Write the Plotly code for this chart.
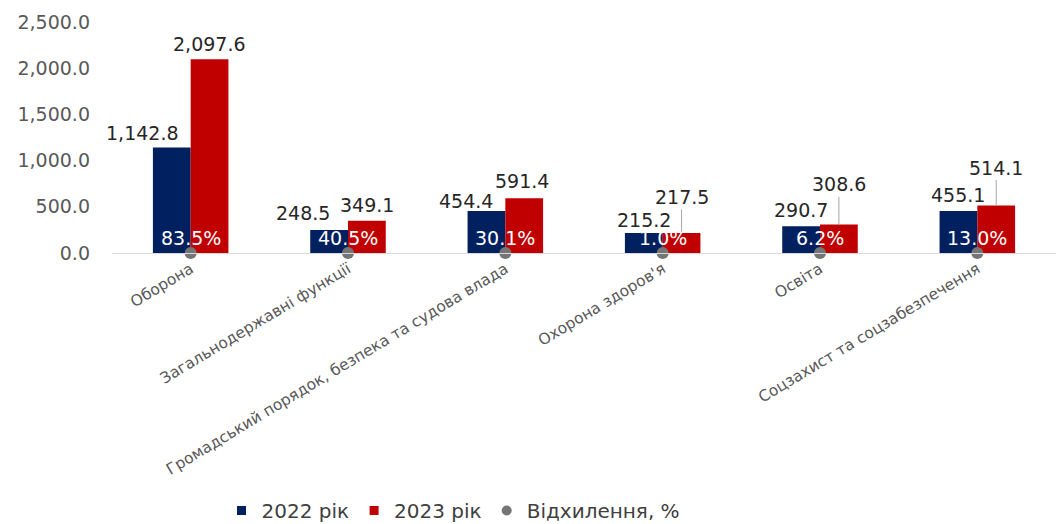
import plotly.graph_objects as go

# Budget expenditure by function, UAH bn
categories = [
    "Оборона",
    "Загальнодержавні функції",
    "Громадський порядок, безпека та судова влада",
    "Охорона здоров'я",
    "Освіта",
    "Соцзахист та соцзабезпечення",
]
values_2022 = [1142.8, 248.5, 454.4, 215.2, 290.7, 455.1]
values_2023 = [2097.6, 349.1, 591.4, 217.5, 308.6, 514.1]
deviation_pct = [83.5, 40.5, 30.1, 1.0, 6.2, 13.0]
y_ticks = [0, 500, 1000, 1500, 2000, 2500]

# Styling
FONT = "DejaVu Sans"
C_2022 = "#002060"
C_2023 = "#C00000"
C_DOT = "#757575"
W, H = 1056, 524
M_L, M_R, M_T, M_B = 112, 0, 22, 271
BARGAP = 0.52

# value-label nudges in px: (dx from bar centre, lift above bar top, leader line)
nudge_2022 = [(-29, 14, False), (-26, 17, False), (-20, 10, False),
              (0, 13, False), (0, 16, False), (0, 16, False)]
nudge_2023 = [(0, 15, False), (0, 16, False), (-2, 17, False),
              (0, 36, True), (0, 40, True), (0, 38, True)]

cat_px = (W - M_L - M_R) / len(categories)
bar_off = (1 - BARGAP) / 4 * cat_px  # centre of each bar relative to category

fig = go.Figure()
fig.add_trace(go.Bar(name="2022 рік", x=categories, y=values_2022, showlegend=False,
                     marker=dict(color=C_2022, line=dict(width=0))))
fig.add_trace(go.Bar(name="2023 рік", x=categories, y=values_2023, showlegend=False,
                     marker=dict(color=C_2023, line=dict(width=0))))
fig.add_trace(go.Scatter(
    name="Відхилення, %", x=categories, y=[0] * len(categories),
    mode="markers", showlegend=False,
    marker=dict(color=C_DOT, size=12),
    cliponaxis=False,
))

# legend entries (small square swatches and a dot)
for name, color, symbol, size in (("2022 рік", C_2022, "square", 9),
                                  ("2023 рік", C_2023, "square", 9),
                                  ("Відхилення, %", C_DOT, "circle", 10)):
    fig.add_trace(go.Scatter(name=name, x=[None], y=[None], mode="markers",
                             marker=dict(color=color, symbol=symbol, size=size)))

annotations = []
for vals, sign, nudges in ((values_2022, -1, nudge_2022),
                           (values_2023, 1, nudge_2023)):
    for cat, v, (dx, lift, leader) in zip(categories, vals, nudges):
        a = dict(x=cat, y=v, xref="x", yref="y", text=f"{v:,.1f}",
                 font=dict(family=FONT, size=19, color="#262626"),
                 xshift=sign * bar_off + dx)
        if leader:
            a.update(showarrow=True, arrowhead=0, arrowwidth=1,
                     arrowcolor="#A6A6A6", ax=0, ay=-lift, standoff=0)
        else:
            a.update(showarrow=False, yanchor="middle", yshift=lift)
        annotations.append(a)

# deviation labels, white, just above each dot
for cat, d in zip(categories, deviation_pct):
    annotations.append(dict(x=cat, y=0, xref="x", yref="y", text=f"{d:.1f}%",
                            showarrow=False, yanchor="middle", yshift=15,
                            font=dict(family=FONT, size=19, color="white")))

fig.update_layout(
    width=W, height=H,
    margin=dict(l=M_L, r=M_R, t=M_T, b=M_B, autoexpand=False),
    paper_bgcolor="white", plot_bgcolor="white",
    barmode="group", bargap=BARGAP, bargroupgap=0,
    font=dict(family=FONT, color="#595959"),
    annotations=annotations,
    showlegend=True,
    legend=dict(orientation="h", x=0.116, xanchor="left", y=-1.199,
                yanchor="bottom", font=dict(family=FONT, size=20, color="#404040"),
                itemwidth=30, traceorder="normal"),
    xaxis=dict(range=[-0.5, len(categories) - 0.5],
               showline=True, linecolor="#D9D9D9", linewidth=1, ticks="",
               tickangle=-31, automargin=False,
               tickfont=dict(family=FONT, size=15.5, color="#595959"),
               showgrid=False, zeroline=False),
    yaxis=dict(range=[0, 2500], tickvals=y_ticks, tickformat=",.1f",
               showgrid=False, zeroline=False, showline=False, ticks="",
               ticklabelstandoff=21, automargin=False,
               tickfont=dict(family=FONT, size=19, color="#595959")),
)

fig.write_html("out.html")
